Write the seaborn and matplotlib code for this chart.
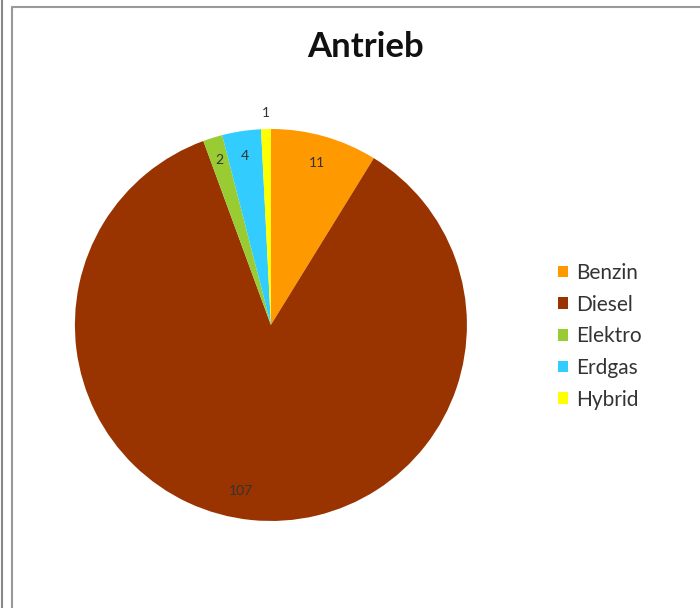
import matplotlib
matplotlib.use("Agg")
import matplotlib.pyplot as plt
import seaborn as sns
import numpy as np
from matplotlib.patches import Patch
from matplotlib.lines import Line2D

categories = ["Benzin", "Diesel", "Elektro", "Erdgas", "Hybrid"]
values = [11, 107, 2, 4, 1]
colors = ["#FF9900", "#993300", "#99CC33", "#33CCFF", "#FFFF00"]
title = "Antrieb"

sns.set_theme(style="white")
plt.rcParams['font.family'] = ['Lato', 'DejaVu Sans']

fig = plt.figure(figsize=(7, 6.08), dpi=100)
ax = fig.add_axes([0.107, 0.143, 0.56, 0.645])

wedges, _ = ax.pie(values, colors=colors, startangle=90, counterclock=False,
                   wedgeprops=dict(linewidth=0))
ax.set_aspect('equal')
ax.set_xlim(-1, 1)
ax.set_ylim(-1, 1)

label_dist = [0.86, 0.85, 0.88, 0.87, 1.08]
label_dx = [0.0, -0.07, 0.0, 0.0, 0.0]
for w, v, d, dx in zip(wedges, values, label_dist, label_dx):
    ang = np.deg2rad((w.theta1 + w.theta2) / 2)
    ax.text(d * np.cos(ang) + dx, d * np.sin(ang), str(v), ha='center', va='center',
            fontsize=10, color='#333333')

fig.text(0.522, 0.922, title, ha='center', va='center', fontsize=25,
         fontweight='bold', color='#111111')

handles = [Patch(facecolor=c, edgecolor='none') for c in colors]
fig.legend(handles, categories, loc='center left', bbox_to_anchor=(0.77, 0.447),
           frameon=False, fontsize=15, handlelength=0.5, handleheight=0.5,
           handletextpad=0.4, labelspacing=0.56, labelcolor='#333333')

# frame lines
fig.add_artist(Line2D([2/700, 2/700], [0, 1], color='#888888', lw=1.5))
fig.add_artist(Line2D([12/700, 12/700], [0, 1 - 7/608], color='#999999', lw=1.5))
fig.add_artist(Line2D([12/700, 1], [1 - 7/608, 1 - 7/608], color='#999999', lw=1.5))

fig.savefig("out.png", dpi=100)
